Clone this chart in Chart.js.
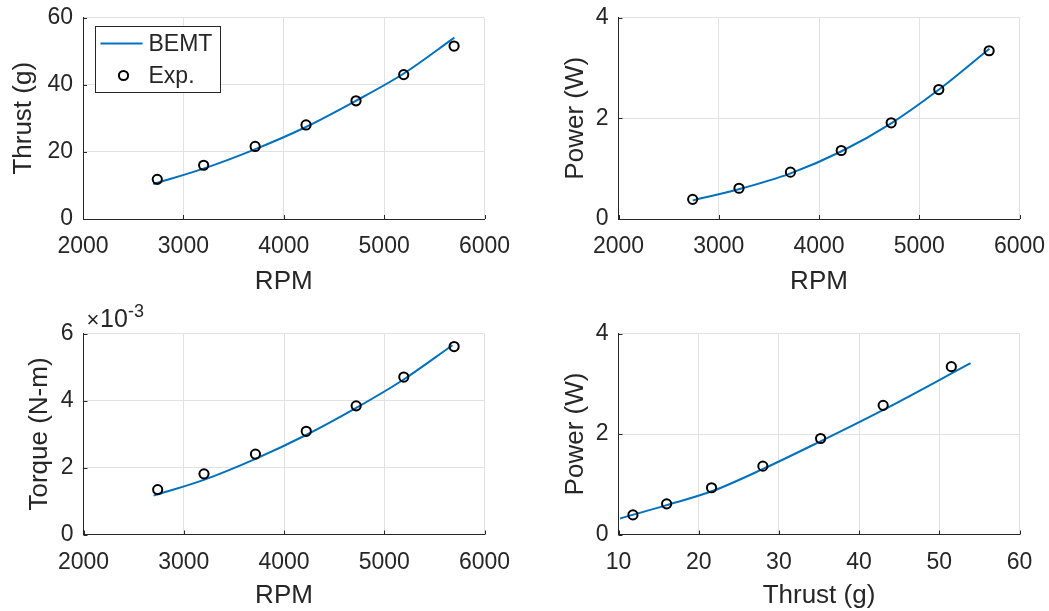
<!DOCTYPE html>
<html>
<head>
<meta charset="utf-8">
<title>Rotor performance: BEMT vs experiment</title>
<script src="https://cdn.jsdelivr.net/npm/chart.js@4.4.1/dist/chart.umd.min.js"></script>
<style>
  html, body { margin: 0; padding: 0; background: #ffffff; width: 1049px; height: 611px; overflow: hidden; }
  canvas { position: absolute; left: 0; top: 0; }
</style>
</head>
<body>
<canvas id="thrustRpm" width="1049" height="611"></canvas>
<canvas id="powerRpm" width="1049" height="611"></canvas>
<canvas id="torqueRpm" width="1049" height="611"></canvas>
<canvas id="powerThrust" width="1049" height="611"></canvas>
<script>
// ---- Experimental measurements ----
const expRpm    = [2740, 3202, 3715, 4222, 4720, 5195, 5697];
const expThrust = [11.8, 16.0, 21.6, 28.0, 35.2, 43.0, 51.5];          // g
const expPower  = [0.39, 0.61, 0.93, 1.36, 1.91, 2.57, 3.34];          // W
const expTorque = [0.00134, 0.00181, 0.00240, 0.00308, 0.00384, 0.00470, 0.00561]; // N-m

// ---- BEMT predictions ----
const bemtRpmThrust = [2700, 3200, 3700, 4200, 4700, 5200, 5700];
const bemtThrust    = [10.4, 15.0, 20.6, 27.1, 34.9, 43.4, 54.0];
const bemtRpmPower  = [2740, 3200, 3710, 4220, 4720, 5190, 5700];
const bemtPower     = [0.37, 0.59, 0.90, 1.34, 1.90, 2.56, 3.38];
const bemtRpmTorque = [2700, 3200, 3710, 4220, 4720, 5190, 5680];
const bemtTorque    = [0.00116, 0.00163, 0.00225, 0.00297, 0.00378, 0.00462, 0.00565];
const bemtThrustPT  = [10.2, 15.9, 21.8, 28.1, 35.0, 42.9, 53.9];
const bemtPowerPT   = [0.32, 0.58, 0.87, 1.31, 1.84, 2.47, 3.41];

// ---- Axis tick settings ----
const rpmTicks    = { min: 2000, max: 6000, step: 1000 };
const thrustTicks = { min: 0, max: 60, step: 20 };
const powerTicks  = { min: 0, max: 4, step: 2 };
const torqueTicks = { min: 0, max: 0.006, step: 0.002 };
const thrustXTicks = { min: 10, max: 60, step: 10 };

const LINE_BLUE = '#0072BD';
const INK = '#262626';
const GRID = '#e2e2e2';
const FONT = '"Liberation Sans", Arial, Helvetica, sans-serif';

Chart.defaults.font.family = FONT;
Chart.defaults.color = INK;

const pairs = (xs, ys) => xs.map((x, i) => ({ x: x, y: ys[i] }));

// inward tick marks on the left and bottom axes
const innerTicks = {
  id: 'innerTicks',
  afterDraw(chart) {
    const ctx = chart.ctx;
    const xs = chart.scales.x, ys = chart.scales.y;
    const area = chart.chartArea;
    ctx.save();
    ctx.strokeStyle = INK;
    ctx.lineWidth = 1;
    ctx.beginPath();
    xs.ticks.forEach(t => {
      const px = Math.round(xs.getPixelForValue(t.value)) + 0.5;
      ctx.moveTo(px, area.bottom);
      ctx.lineTo(px, area.bottom - 4);
    });
    ys.ticks.forEach(t => {
      const py = Math.round(ys.getPixelForValue(t.value)) + 0.5;
      ctx.moveTo(area.left, py);
      ctx.lineTo(area.left + 4, py);
    });
    ctx.stroke();
    ctx.restore();
  }
};

// boxed legend in the upper-left corner of the plot area
const boxLegend = {
  id: 'boxLegend',
  afterDraw(chart) {
    const ctx = chart.ctx;
    const area = chart.chartArea;
    const line = chart.data.datasets.find(d => d.showLine);
    const pts = chart.data.datasets.find(d => !d.showLine);
    const bx = Math.round(area.left + 12) + 0.5, by = Math.round(area.top + 8) + 0.5, bw = 125, bh = 66;
    ctx.save();
    ctx.fillStyle = '#ffffff';
    ctx.fillRect(bx, by, bw, bh);
    ctx.strokeStyle = INK;
    ctx.lineWidth = 1;
    ctx.strokeRect(bx, by, bw, bh);
    // line sample
    ctx.strokeStyle = line.borderColor;
    ctx.lineWidth = line.borderWidth;
    ctx.beginPath();
    ctx.moveTo(bx + 5, by + 17);
    ctx.lineTo(bx + 47, by + 17);
    ctx.stroke();
    // marker sample
    ctx.strokeStyle = pts.pointBorderColor;
    ctx.lineWidth = pts.pointBorderWidth;
    ctx.beginPath();
    ctx.arc(bx + 28, by + 49, pts.pointRadius, 0, Math.PI * 2);
    ctx.stroke();
    ctx.fillStyle = INK;
    ctx.font = '23px ' + FONT;
    ctx.textBaseline = 'middle';
    ctx.textAlign = 'left';
    ctx.fillText(line.label, bx + 53, by + 18);
    ctx.fillText(pts.label, bx + 53, by + 50);
    ctx.restore();
  }
};

// "×10^-3" multiplier above the torque axis
const expMultiplier = {
  id: 'expMultiplier',
  afterDraw(chart) {
    const ctx = chart.ctx;
    const area = chart.chartArea;
    ctx.save();
    ctx.fillStyle = INK;
    ctx.textBaseline = 'alphabetic';
    ctx.textAlign = 'left';
    ctx.font = '22px ' + FONT;
    ctx.fillText('\u00d7', area.left + 3, area.top - 7);
    ctx.font = '25px ' + FONT;
    ctx.fillText('10', area.left + 16.5, area.top - 6.5);
    ctx.font = '18px ' + FONT;
    ctx.fillText('-3', area.left + 44.5, area.top - 16.5);
    ctx.restore();
  }
};

function makePanel(id, cfg) {
  const W = 83;
  const lineH = 26 * 1.2;
  const xH = cfg.xTitleY + lineH / 2 - cfg.area.bottom;
  const yPad = W - (cfg.area.left - cfg.yTitleX) - lineH / 2;
  const fmt = cfg.yFormat || (v => String(Math.round(v * 1000) / 1000));
  return new Chart(document.getElementById(id), {
    type: 'scatter',
    data: {
      datasets: [
        {
          label: 'Exp.',
          data: pairs(cfg.expX, cfg.expY),
          showLine: false,
          pointRadius: 4.6,
          pointHoverRadius: 4.6,
          pointBorderWidth: 2,
          pointBorderColor: '#000000',
          pointBackgroundColor: 'rgba(0,0,0,0)',
          order: 0
        },
        {
          label: 'BEMT',
          data: pairs(cfg.bemtX, cfg.bemtY),
          showLine: true,
          borderColor: LINE_BLUE,
          borderWidth: 2,
          pointRadius: 0,
          pointHoverRadius: 0,
          cubicInterpolationMode: 'monotone',
          fill: false,
          order: 1
        }
      ]
    },
    options: {
      responsive: false,
      animation: false,
      events: [],
      devicePixelRatio: 1,
      layout: {
        padding: {
          left: cfg.area.left - W,
          top: cfg.area.top,
          right: 1049 - cfg.area.right,
          bottom: 611 - cfg.area.bottom - xH
        }
      },
      plugins: { legend: { display: false }, tooltip: { enabled: false } },
      scales: {
        x: {
          type: 'linear',
          position: 'bottom',
          min: cfg.xTicks.min, max: cfg.xTicks.max,
          afterFit: s => { s.height = xH; s.paddingLeft = 0; s.paddingRight = 0; },
          afterBuildTicks: s => {
            const t = [];
            for (let v = cfg.xTicks.min; v <= cfg.xTicks.max + 1e-9; v += cfg.xTicks.step) t.push({ value: v });
            s.ticks = t;
          },
          ticks: {
            font: { size: 23 }, color: INK, padding: 14, maxRotation: 0,
            callback: v => String(v)
          },
          grid: { color: GRID, lineWidth: 1, drawTicks: false },
          border: { display: true, color: INK, width: 1 },
          title: { display: true, text: cfg.xTitle, font: { size: 26 }, color: INK, padding: { top: 0, bottom: 0 } }
        },
        y: {
          type: 'linear',
          position: 'left',
          min: cfg.yTicks.min, max: cfg.yTicks.max,
          afterFit: s => { s.width = W; s.paddingTop = 0; s.paddingBottom = 0; },
          afterBuildTicks: s => {
            const t = [];
            const n = Math.round((cfg.yTicks.max - cfg.yTicks.min) / cfg.yTicks.step);
            for (let i = 0; i <= n; i++) t.push({ value: cfg.yTicks.min + i * cfg.yTicks.step });
            s.ticks = t;
          },
          ticks: { font: { size: 23 }, color: INK, padding: 10, callback: fmt },
          grid: { color: GRID, lineWidth: 1, drawTicks: false },
          border: { display: true, color: INK, width: 1 },
          title: { display: true, text: cfg.yTitle, font: { size: 26 }, color: INK, padding: { top: yPad, bottom: 0 } }
        }
      }
    },
    plugins: [innerTicks].concat(cfg.extraPlugins || [])
  });
}

makePanel('thrustRpm', {
  area: { left: 83, top: 17.5, right: 484.5, bottom: 219 },
  expX: expRpm, expY: expThrust, bemtX: bemtRpmThrust, bemtY: bemtThrust,
  xTicks: rpmTicks, yTicks: thrustTicks,
  xTitle: 'RPM', yTitle: 'Thrust (g)',
  xTitleY: 282, yTitleX: 24,
  extraPlugins: [boxLegend]
});

makePanel('powerRpm', {
  area: { left: 618.5, top: 17.5, right: 1019.5, bottom: 219 },
  expX: expRpm, expY: expPower, bemtX: bemtRpmPower, bemtY: bemtPower,
  xTicks: rpmTicks, yTicks: powerTicks,
  xTitle: 'RPM', yTitle: 'Power (W)',
  xTitleY: 282, yTitleX: 576
});

makePanel('torqueRpm', {
  area: { left: 83.5, top: 333.5, right: 484.5, bottom: 534.5 },
  expX: expRpm, expY: expTorque, bemtX: bemtRpmTorque, bemtY: bemtTorque,
  xTicks: rpmTicks, yTicks: torqueTicks,
  xTitle: 'RPM', yTitle: 'Torque (N-m)',
  xTitleY: 595.5, yTitleX: 40,
  yFormat: v => String(Math.round(v * 1000)),
  extraPlugins: [expMultiplier]
});

makePanel('powerThrust', {
  area: { left: 618.5, top: 333.5, right: 1019.5, bottom: 534.5 },
  expX: expThrust, expY: expPower, bemtX: bemtThrustPT, bemtY: bemtPowerPT,
  xTicks: thrustXTicks, yTicks: powerTicks,
  xTitle: 'Thrust (g)', yTitle: 'Power (W)',
  xTitleY: 595.5, yTitleX: 576
});
</script>
</body>
</html>
